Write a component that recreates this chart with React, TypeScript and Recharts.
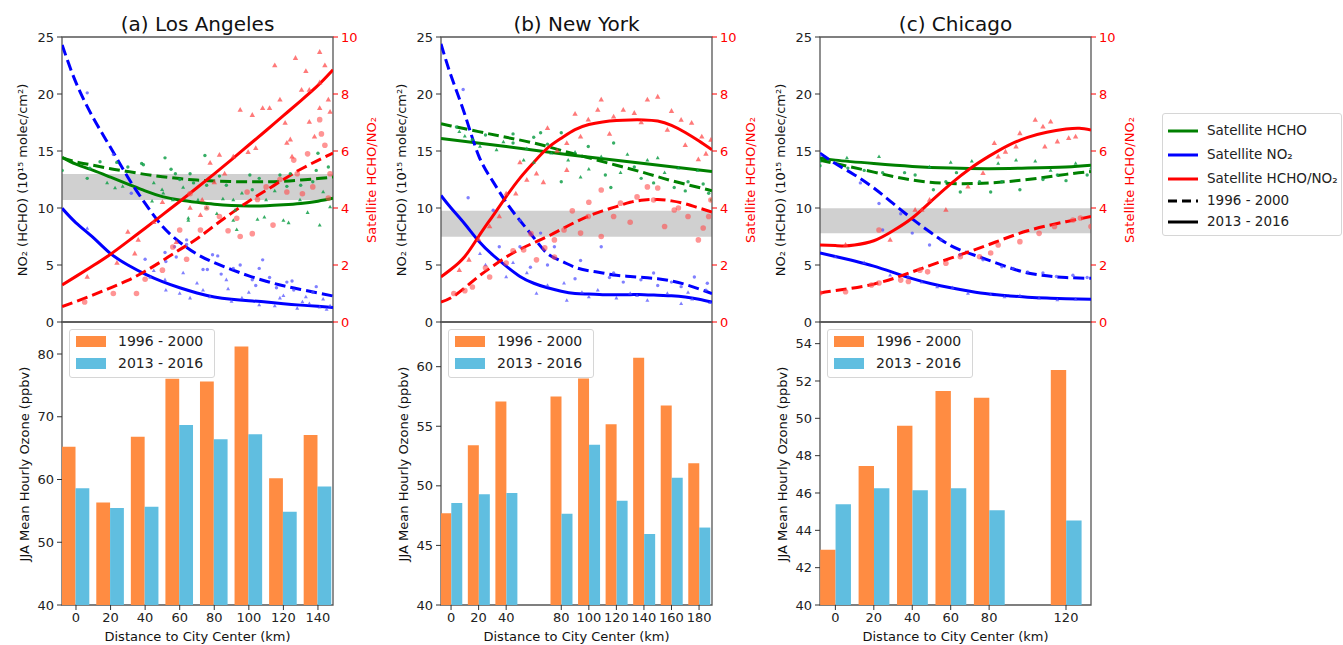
import React from 'react';
import { ComposedChart, BarChart, Bar, Line, Scatter, XAxis, YAxis, ReferenceArea, Legend } from 'recharts';

type Pt = [number, number];

// ---------------- Los Angeles ----------------
const laDist = [0, 20, 40, 60, 80, 100, 120, 140];
const laO3Old = [65.2, 56.35, 66.8, 76.05, 75.6, 81.2, 60.2, 67.1];
const laO3New = [58.6, 55.45, 55.65, 68.7, 66.4, 67.2, 54.85, 58.9];

const laHchoOldFit: Pt[] = [[-8, 14.4], [0, 14.05], [10, 13.75], [20, 13.45], [30, 13.2], [40, 12.95], [50, 12.75], [60, 12.58], [70, 12.45], [80, 12.37], [90, 12.32], [100, 12.3], [110, 12.3], [120, 12.35], [130, 12.45], [140, 12.58], [148.7, 12.72]];
const laHchoNewFit: Pt[] = [[-8, 14.45], [0, 13.85], [10, 13.3], [20, 12.7], [30, 12.1], [40, 11.5], [50, 11.0], [60, 10.7], [70, 10.5], [80, 10.33], [90, 10.22], [100, 10.18], [110, 10.2], [120, 10.28], [130, 10.4], [140, 10.6], [148.7, 10.85]];
const laNo2OldFit: Pt[] = [[-8, 24.3], [0, 21.0], [10, 17.9], [20, 15.3], [30, 12.7], [40, 10.4], [50, 8.4], [60, 7.0], [70, 5.95], [80, 5.2], [90, 4.6], [100, 4.05], [110, 3.58], [120, 3.18], [130, 2.85], [140, 2.55], [148.7, 2.28]];
const laNo2NewFit: Pt[] = [[-8, 9.97], [0, 8.7], [10, 7.4], [20, 6.0], [30, 5.0], [40, 4.2], [50, 3.54], [60, 3.0], [70, 2.55], [80, 2.2], [90, 2.0], [100, 1.87], [110, 1.75], [120, 1.6], [130, 1.48], [140, 1.38], [148.7, 1.28]];
const laRatioOldFit: Pt[] = [[-8, 0.54], [0, 0.72], [10, 0.95], [20, 1.2], [30, 1.46], [40, 1.78], [50, 2.15], [60, 2.54], [70, 2.92], [80, 3.38], [90, 3.82], [100, 4.24], [110, 4.62], [120, 5.0], [130, 5.36], [140, 5.67], [148.7, 5.93]];
const laRatioNewFit: Pt[] = [[-8, 1.3], [0, 1.6], [10, 1.98], [20, 2.38], [30, 2.83], [40, 3.29], [50, 3.76], [60, 4.23], [70, 4.71], [80, 5.2], [90, 5.7], [100, 6.21], [110, 6.72], [120, 7.24], [130, 7.76], [140, 8.3], [148.7, 8.85]];

const laHchoOld: Pt[] = [[-8, 13.3], [6.5, 12.6], [8, 13.5], [13.9, 14.06], [23.6, 14.0], [30, 13.6], [38, 13.9], [39, 13.8], [51.5, 14.4], [55, 13.4], [57.5, 13.0], [60, 12.5], [66, 13.0], [68, 12.2], [74.6, 14.6], [75.6, 12.0], [83, 12.8], [87, 12.0], [100.6, 12.9], [102, 11.6], [106, 12.6], [118, 12.9], [122, 11.9], [124, 13.0], [130, 12.0], [137, 12.3], [139, 13.3], [140, 14.8], [146, 13.6]];
const laHchoNew: Pt[] = [[18, 12.2], [22.6, 11.75], [27, 11.9], [44, 10.6], [45, 12.2], [49.8, 11.6], [50.5, 11.3], [56, 10.7], [62, 11.8], [65, 8.9], [65, 9.1], [70.6, 10.7], [75.6, 10.0], [81.5, 9.5], [85, 10.8], [91, 10.7], [91, 8.9], [92, 9.8], [93, 8.1], [96, 11.3], [105, 9.0], [109, 9.2], [110, 10.7], [115, 11.5], [120, 8.9], [123, 8.7], [129.6, 10.7], [134, 9.6], [141, 8.5], [143, 11.4], [147, 10.1]];
const laNo2Old: Pt[] = [[6.5, 20.1], [21.6, 14.7], [32, 11.3], [40, 5.5], [51.5, 6.1], [52, 5.3], [57, 6.6], [58, 5.7], [64, 7.2], [64, 6.8], [73.5, 4.6], [76, 4.6], [79, 5.9], [82, 5.8], [84, 4.2], [91, 4.7], [95, 5.0], [102, 3.7], [104, 3.2], [106, 4.7], [108, 5.45], [112, 3.9], [116, 3.0], [122, 3.5], [125, 3.6], [126, 2.8], [137, 2.6], [139, 3.1]];
const laNo2New: Pt[] = [[6.5, 8.2], [43, 3.9], [45, 4.5], [51.5, 3.7], [52, 2.8], [60, 2.5], [62, 4.3], [66, 2.1], [70, 3.4], [73.5, 2.8], [77.5, 2.2], [87, 3.7], [88, 2.9], [90, 1.8], [96, 2.1], [100, 2.6], [106, 1.5], [115, 1.4], [118, 2.1], [120, 2.3], [128, 1.2], [131, 1.75], [133, 2.2], [135, 1.6], [141, 1.3], [143, 2.0], [145, 1.1], [147, 1.4]];
const laRatioOld: Pt[] = [[5, 0.7], [21.6, 1.0], [35, 1.0], [40, 1.5], [50, 1.82], [56, 2.63], [60, 3.23], [64, 2.2], [66, 4.5], [72, 3.23], [75.6, 4.0], [83, 3.7], [88, 3.2], [93, 3.64], [95, 3.0], [99, 4.56], [102, 3.1], [105, 4.3], [110, 4.74], [114, 3.4], [118, 5.0], [122, 4.56], [126, 5.68], [128, 5.2], [131, 4.5], [134, 5.9], [137, 4.74], [141, 7.1], [142, 6.6], [144, 6.2], [146, 4.35], [147, 5.2]];
const laRatioNew: Pt[] = [[6.5, 1.58], [23.7, 2.07], [30, 3.16], [34, 2.4], [36, 2.88], [45, 3.5], [50, 4.2], [58, 2.8], [66, 4.0], [72, 3.75], [73, 4.28], [77.6, 5.58], [80, 4.9], [83, 5.86], [86, 5.2], [91, 5.8], [95, 7.44], [99.6, 5.96], [102, 7.26], [104, 6.1], [108, 7.5], [112, 7.5], [115, 9.0], [118, 7.8], [121, 6.98], [122, 6.28], [124, 6.4], [125, 5.8], [127, 9.26], [130.5, 8.14], [133, 8.8], [135, 8.14], [135, 7.02], [138, 6.5], [141, 9.47], [141, 7.5], [141, 8.4], [144, 9.0], [146, 7.8], [147, 7.37]];

// ---------------- New York ----------------
const nyDist = [0, 20, 40, 80, 100, 120, 140, 160, 180];
const nyO3Old = [47.7, 53.4, 57.07, 57.5, 59.0, 55.17, 60.75, 56.74, 51.9];
const nyO3New = [48.55, 49.3, 49.4, 47.65, 53.45, 48.74, 45.95, 50.67, 46.5];

const nyHchoOldFit: Pt[] = [[-7.3, 17.4], [0, 17.2], [20, 16.7], [40, 16.2], [60, 15.7], [80, 15.05], [100, 14.4], [120, 13.75], [140, 13.1], [160, 12.4], [180, 11.8], [189.4, 11.5]];
const nyHchoNewFit: Pt[] = [[-7.3, 16.1], [40, 15.4], [90, 14.6], [140, 13.9], [189.4, 13.2]];
const nyNo2OldFit: Pt[] = [[-7.3, 24.4], [0, 21.6], [10, 18.2], [20, 14.6], [30, 12.4], [40, 10.5], [50, 8.9], [60, 7.4], [70, 6.0], [80, 5.35], [90, 4.8], [100, 4.5], [110, 4.3], [120, 4.1], [130, 4.0], [140, 3.9], [150, 3.8], [160, 3.6], [170, 3.3], [180, 2.9], [189.4, 2.5]];
const nyNo2NewFit: Pt[] = [[-7.3, 11.1], [0, 10.0], [10, 8.6], [20, 7.1], [30, 5.9], [40, 4.9], [50, 4.0], [60, 3.4], [70, 3.0], [80, 2.7], [90, 2.5], [100, 2.45], [110, 2.4], [120, 2.4], [130, 2.4], [140, 2.4], [150, 2.35], [160, 2.3], [170, 2.2], [180, 2.0], [189.4, 1.75]];
const nyRatioOldFit: Pt[] = [[-7.3, 0.7], [0, 0.85], [10, 1.2], [20, 1.6], [30, 1.95], [40, 2.28], [50, 2.55], [60, 2.78], [70, 3.0], [80, 3.25], [90, 3.5], [100, 3.72], [110, 3.9], [120, 4.05], [130, 4.2], [140, 4.28], [150, 4.3], [160, 4.25], [170, 4.15], [180, 4.0], [189.4, 3.86]];
const nyRatioNewFit: Pt[] = [[-7.3, 1.58], [0, 1.85], [10, 2.3], [20, 3.0], [30, 3.7], [40, 4.4], [50, 5.05], [60, 5.6], [70, 6.1], [80, 6.45], [90, 6.75], [100, 6.93], [110, 7.02], [120, 7.07], [130, 7.09], [140, 7.09], [150, 7.05], [160, 6.9], [170, 6.65], [180, 6.35], [189.4, 6.04]];

const nyHchoOld: Pt[] = [[3.9, 17.1], [15.5, 16.0], [25, 16.4], [45, 15.7], [45, 16.5], [60, 16.2], [65, 16.6], [70, 15.6], [80, 16.6], [80, 12.3], [99.6, 15.4], [112, 12.9], [116, 11.8], [118, 15.7], [133, 13.6], [138, 12.6], [147, 12.2], [162, 11.8], [170, 11.5], [172, 12.3], [183, 12.1], [187, 11.3], [189, 10.7]];
const nyHchoNew: Pt[] = [[6, 16.7], [10, 16.3], [21, 15.4], [33, 15.1], [38, 15.8], [52.7, 14.2], [55, 15.2], [60, 14.0], [72.8, 14.8], [85, 14.2], [90, 14.9], [94, 12.7], [100, 13.4], [109, 14.5], [123, 13.1], [128, 14.7], [142.5, 14.2], [150, 14.4], [155, 13.1], [165, 13.5], [179, 13.3]];
const nyNo2Old: Pt[] = [[8.8, 20.4], [12.4, 10.9], [30.6, 9.8], [35, 6.6], [50, 8.9], [50, 6.6], [57.6, 4.8], [65, 7.8], [70, 5.0], [75, 6.6], [90, 3.8], [94, 5.4], [109, 6.6], [115, 3.9], [118, 4.3], [125, 3.5], [137.8, 3.7], [147, 4.3], [150, 3.2], [160, 3.5], [167, 3.1], [176.6, 3.95], [185, 2.8], [186, 3.4]];
const nyNo2New: Pt[] = [[21, 6.0], [25, 5.0], [40, 3.95], [45, 5.2], [55, 4.3], [62, 2.5], [70, 3.2], [82, 3.4], [84, 1.9], [95, 2.6], [100, 2.2], [106.5, 2.8], [120, 2.1], [130, 2.5], [135, 2.3], [142.5, 1.9], [157, 2.5], [167, 1.6], [172, 2.6], [175, 2.0], [188, 1.7]];
const nyRatioOld: Pt[] = [[2, 1.0], [10, 1.1], [15.5, 1.23], [25, 1.9], [28, 1.58], [40, 2.07], [45, 2.5], [52.7, 2.53], [58, 3.1], [62, 2.18], [68, 2.6], [75, 2.88], [75, 2.28], [82, 3.23], [88, 3.9], [94, 3.12], [99.6, 3.7], [100, 4.2], [109, 3.0], [109, 4.63], [118, 3.7], [123, 4.17], [130, 3.5], [135, 4.39], [142.5, 4.74], [147, 4.28], [150, 4.7], [155, 3.35], [162, 3.93], [165, 4.0], [172, 3.7], [179.5, 2.88], [183, 3.3], [187, 3.7], [188.6, 4.28]];
const nyRatioNew: Pt[] = [[6, 1.82], [13, 2.18], [20, 2.9], [28, 3.35], [35, 3.7], [40, 4.5], [47, 4.5], [50, 5.6], [55, 4.98], [62, 5.2], [67, 4.9], [70, 6.8], [77, 6.0], [84, 6.27], [84, 5.33], [90, 7.3], [94, 6.5], [99.6, 7.1], [106.5, 7.44], [109, 7.8], [115, 6.6], [118, 7.2], [125, 7.44], [133, 7.33], [138, 7.0], [142.5, 7.8], [150, 7.9], [157, 6.74], [160, 7.4], [167, 7.09], [170, 6.2], [174.6, 6.98], [179.5, 5.7], [182, 6.5], [185, 5.9], [188.6, 6.39]];

// ---------------- Chicago ----------------
const chDist = [0, 20, 40, 60, 80, 120];
const chO3Old = [42.96, 47.45, 49.6, 51.47, 51.1, 52.59];
const chO3New = [45.4, 46.26, 46.15, 46.26, 45.08, 44.53];

const chHchoOldFit: Pt[] = [[-8, 14.2], [0, 13.9], [20, 13.15], [40, 12.45], [60, 12.15], [80, 12.2], [100, 12.5], [120, 12.95], [133, 13.2]];
const chHchoNewFit: Pt[] = [[-8, 14.4], [0, 14.2], [20, 13.9], [40, 13.65], [60, 13.5], [80, 13.45], [100, 13.5], [120, 13.6], [133, 13.75]];
const chNo2OldFit: Pt[] = [[-8, 14.8], [0, 13.9], [10, 12.9], [20, 11.75], [30, 10.4], [40, 9.05], [50, 7.8], [60, 6.7], [70, 6.0], [80, 5.4], [90, 4.8], [100, 4.3], [110, 4.05], [120, 3.9], [133, 3.83]];
const chNo2NewFit: Pt[] = [[-8, 6.05], [0, 5.75], [10, 5.35], [20, 4.9], [30, 4.35], [40, 3.8], [50, 3.35], [60, 3.0], [70, 2.7], [80, 2.45], [90, 2.3], [100, 2.18], [110, 2.1], [120, 2.05], [133, 2.0]];
const chRatioOldFit: Pt[] = [[-8, 1.02], [0, 1.1], [20, 1.33], [40, 1.76], [60, 2.24], [80, 2.72], [100, 3.2], [120, 3.52], [133, 3.7]];
const chRatioNewFit: Pt[] = [[-8, 2.7], [0, 2.68], [5, 2.67], [10, 2.7], [20, 2.85], [30, 3.2], [40, 3.65], [50, 4.25], [60, 4.85], [70, 5.38], [80, 5.82], [90, 6.2], [100, 6.48], [110, 6.66], [120, 6.77], [127, 6.8], [133, 6.74]];

const chHchoOld: Pt[] = [[-8, 13.7], [6.5, 13.5], [15, 13.3], [24.6, 13.1], [36, 13.1], [41.5, 12.9], [51, 11.6], [57.5, 12.3], [63, 13.1], [65, 11.4], [75, 12.3], [80.8, 11.4], [86.6, 12.3], [96, 11.6], [108, 12.5], [115.5, 12.9], [120, 12.4], [131, 12.9]];
const chHchoNew: Pt[] = [[-8, 14.1], [6, 14.4], [22.7, 14.5], [49, 13.6], [60, 14.0], [71, 14.1], [84.7, 13.9], [94, 14.2], [104, 14.1], [112, 13.3], [125, 13.9], [133, 13.5]];
const chNo2Old: Pt[] = [[-8, 14.6], [13, 12.2], [22.7, 10.4], [24.6, 8.07], [34, 9.5], [40, 7.8], [49, 6.75], [55, 7.2], [65, 5.9], [76.8, 5.45], [86.6, 4.85], [92.4, 4.7], [100, 4.4], [108, 4.3], [115, 4.0], [123.6, 4.1], [131, 3.9]];
const chNo2New: Pt[] = [[0, 5.7], [15, 5.2], [28.5, 4.1], [38, 3.95], [45, 3.5], [53, 3.07], [61, 3.0], [69, 2.5], [80.8, 2.4], [88, 2.2], [96, 2.3], [106, 2.1], [115.5, 1.93], [125, 2.0]];
const chRatioOld: Pt[] = [[-8, 1.02], [5.3, 1.06], [18.8, 1.3], [22.7, 1.37], [22.7, 3.23], [34, 1.47], [38, 1.42], [44, 1.82], [48, 1.76], [57.5, 2.06], [65, 2.29], [75, 2.29], [80.8, 2.42], [84.7, 2.7], [96, 2.82], [106, 3.11], [114, 3.35], [123.6, 3.58], [127.5, 3.65], [133, 3.35]];
const chRatioNew: Pt[] = [[5.3, 2.7], [28.5, 2.88], [41.5, 3.93], [45, 3.93], [49, 4.28], [57.5, 3.93], [69, 4.75], [76.8, 5.22], [82.7, 6.27], [84.7, 5.8], [88.5, 5.97], [94, 6.15], [96, 6.62], [104, 7.09], [108, 6.85], [109, 6.15], [112, 7.03], [115.5, 6.33], [121.4, 6.45], [125, 6.5]];

// ---------------- shared ticks ----------------
const leftTicks = [0, 5, 10, 15, 20, 25];
const rightTicks = [0, 2, 4, 6, 8, 10];
const laO3Ticks = [40, 50, 60, 70, 80];
const nyO3Ticks = [40, 45, 50, 55, 60];
const chO3Ticks = [40, 42, 44, 46, 48, 50, 52, 54];

const FONT = '"DejaVu Sans", "Liberation Sans", sans-serif';
const PW = 271;
const TOP_Y = 37;
const MID_Y = 322;
const BOT_Y = 605;
const PAD = 12;
const GREEN = '#008000';
const BLUE = '#0000ff';
const RED = '#ff0000';
const ORANGE = '#ff8c42';
const SKY = '#60bee0';
const FRAME = '#555555';

interface City {
  title: string;
  left: number;
  domain: [number, number];
  band: [number, number];
  fits: { hchoOld: Pt[]; hchoNew: Pt[]; no2Old: Pt[]; no2New: Pt[]; ratioOld: Pt[]; ratioNew: Pt[] };
  pts: { hchoOld: Pt[]; hchoNew: Pt[]; no2Old: Pt[]; no2New: Pt[]; ratioOld: Pt[]; ratioNew: Pt[] };
  dist: number[];
  o3Old: number[];
  o3New: number[];
  o3Max: number;
  o3Ticks: number[];
  barSize: number;
}

const cities: City[] = [
  {
    title: '(a) Los Angeles', left: 62, domain: [-8.1, 148.7], band: [10.7, 12.98],
    fits: { hchoOld: laHchoOldFit, hchoNew: laHchoNewFit, no2Old: laNo2OldFit, no2New: laNo2NewFit, ratioOld: laRatioOldFit, ratioNew: laRatioNewFit },
    pts: { hchoOld: laHchoOld, hchoNew: laHchoNew, no2Old: laNo2Old, no2New: laNo2New, ratioOld: laRatioOld, ratioNew: laRatioNew },
    dist: laDist, o3Old: laO3Old, o3New: laO3New, o3Max: 85.1, o3Ticks: laO3Ticks, barSize: 13.8,
  },
  {
    title: '(b) New York', left: 441, domain: [-7.3, 189.4], band: [7.48, 9.76],
    fits: { hchoOld: nyHchoOldFit, hchoNew: nyHchoNewFit, no2Old: nyNo2OldFit, no2New: nyNo2NewFit, ratioOld: nyRatioOldFit, ratioNew: nyRatioNewFit },
    pts: { hchoOld: nyHchoOld, hchoNew: nyHchoNew, no2Old: nyNo2Old, no2New: nyNo2New, ratioOld: nyRatioOld, ratioNew: nyRatioNew },
    dist: nyDist, o3Old: nyO3Old, o3New: nyO3New, o3Max: 63.75, o3Ticks: nyO3Ticks, barSize: 11.0,
  },
  {
    title: '(c) Chicago', left: 820, domain: [-8, 133], band: [7.78, 9.97],
    fits: { hchoOld: chHchoOldFit, hchoNew: chHchoNewFit, no2Old: chNo2OldFit, no2New: chNo2NewFit, ratioOld: chRatioOldFit, ratioNew: chRatioNewFit },
    pts: { hchoOld: chHchoOld, hchoNew: chHchoNew, no2Old: chNo2Old, no2New: chNo2New, ratioOld: chRatioOld, ratioNew: chRatioNew },
    dist: chDist, o3Old: chO3Old, o3New: chO3New, o3Max: 55.16, o3Ticks: chO3Ticks, barSize: 15.4,
  },
];

const toPts = (a: Pt[]) => a.map(([d, v]) => ({ d, v }));

const dotShape = (color: string, r: number, op: number) => (props: any) => {
  if (props.cx == null || props.cy == null) return <g />;
  return <circle cx={props.cx} cy={props.cy} r={r} fill={color} fillOpacity={op} />;
};
const triShape = (color: string, s: number, op: number) => (props: any) => {
  if (props.cx == null || props.cy == null) return <g />;
  const { cx, cy } = props;
  return <path d={`M${cx},${cy - s} L${cx + s * 0.9},${cy + s * 0.6} L${cx - s * 0.9},${cy + s * 0.6} Z`} fill={color} fillOpacity={op} />;
};

const tickStyle = { fontSize: 13, fill: '#222', fontFamily: FONT };
const redTickStyle = { fontSize: 13, fill: RED, fontFamily: FONT };

function RightLegend() {
  const rows: { label: string; color: string; dash?: string }[] = [
    { label: 'Satellite HCHO', color: GREEN },
    { label: 'Satellite NO₂', color: BLUE },
    { label: 'Satellite HCHO/NO₂', color: RED },
    { label: '1996 - 2000', color: '#000', dash: '9 5' },
    { label: '2013 - 2016', color: '#000' },
  ];
  const ys = [17, 41, 65, 87, 108];
  return (
    <div style={{ position: 'relative', width: 180, height: 123, border: '1px solid #d6d6d6', borderRadius: 3, background: 'rgba(255,255,255,0.85)', fontFamily: FONT, fontSize: 13.5, color: '#222', boxSizing: 'border-box' }}>
      {rows.map((r, i) => (
        <div key={r.label} style={{ position: 'absolute', left: 0, top: ys[i] - 10, height: 20, width: 176 }}>
          <svg width={40} height={20} style={{ position: 'absolute', left: 4, top: 0 }}>
            <line x1={1} y1={10} x2={31} y2={10} stroke={r.color} strokeWidth={3} strokeDasharray={r.dash} />
          </svg>
          <span style={{ position: 'absolute', left: 44, top: 0, whiteSpace: 'nowrap', lineHeight: '18px' }}>{r.label}</span>
        </div>
      ))}
    </div>
  );
}

function O3Legend() {
  return (
    <div style={{ position: 'relative', width: 146, height: 49, border: '1px solid #d6d6d6', borderRadius: 3, background: 'rgba(255,255,255,0.85)', fontFamily: FONT, fontSize: 14, color: '#222', boxSizing: 'border-box' }}>
      <div style={{ position: 'absolute', left: 6, top: 6, width: 30, height: 11, background: ORANGE }} />
      <span style={{ position: 'absolute', left: 48, top: 2, lineHeight: '18px', whiteSpace: 'nowrap' }}>1996 - 2000</span>
      <div style={{ position: 'absolute', left: 6, top: 28, width: 30, height: 11, background: SKY }} />
      <span style={{ position: 'absolute', left: 48, top: 24, lineHeight: '18px', whiteSpace: 'nowrap' }}>2013 - 2016</span>
    </div>
  );
}

function TopChart({ c, withLegend }: { c: City; withLegend: boolean }) {
  const LW = 50;
  const RW = 45;
  const chartLeft = c.left - LW;
  const chartTop = TOP_Y - PAD;
  return (
    <div style={{ position: 'absolute', left: chartLeft, top: chartTop }}>
      <ComposedChart width={LW + PW + RW} height={PAD + (MID_Y - TOP_Y) + PAD} margin={{ top: PAD, right: 0, bottom: PAD, left: 0 }}>
        <XAxis type="number" dataKey="d" domain={c.domain} hide allowDataOverflow />
        <YAxis yAxisId="l" type="number" domain={[0, 25]} ticks={leftTicks} interval={0} width={LW} axisLine={false} tickSize={5} tickMargin={3} tick={tickStyle} tickLine={{ stroke: '#333' }} allowDataOverflow />
        <YAxis yAxisId="r" orientation="right" type="number" domain={[0, 10]} ticks={rightTicks} interval={0} width={RW} axisLine={false} tickSize={5} tickMargin={3} tick={redTickStyle} tickLine={{ stroke: RED }} allowDataOverflow />
        <ReferenceArea yAxisId="l" x1={c.domain[0]} x2={c.domain[1]} y1={c.band[0]} y2={c.band[1]} fill="#d0d0d0" fillOpacity={1} stroke="none" ifOverflow="visible" />
        <Scatter yAxisId="l" name="hcho old pts" data={toPts(c.pts.hchoOld)} dataKey="v" shape={dotShape('#13a04a', 1.7, 0.85)} isAnimationActive={false} />
        <Scatter yAxisId="l" name="hcho new pts" data={toPts(c.pts.hchoNew)} dataKey="v" shape={triShape('#13a04a', 2.2, 0.85)} isAnimationActive={false} />
        <Scatter yAxisId="l" name="no2 old pts" data={toPts(c.pts.no2Old)} dataKey="v" shape={dotShape('#4a4aff', 1.7, 0.7)} isAnimationActive={false} />
        <Scatter yAxisId="l" name="no2 new pts" data={toPts(c.pts.no2New)} dataKey="v" shape={triShape('#4a4aff', 2.2, 0.7)} isAnimationActive={false} />
        <Line yAxisId="l" data={toPts(c.fits.hchoOld)} dataKey="v" type="natural" stroke={GREEN} strokeWidth={3} strokeDasharray="11 5" dot={false} isAnimationActive={false} />
        <Line yAxisId="l" data={toPts(c.fits.hchoNew)} dataKey="v" type="natural" stroke={GREEN} strokeWidth={3} dot={false} isAnimationActive={false} />
        <Line yAxisId="l" data={toPts(c.fits.no2Old)} dataKey="v" type="natural" stroke={BLUE} strokeWidth={3} strokeDasharray="11 5" dot={false} isAnimationActive={false} />
        <Line yAxisId="l" data={toPts(c.fits.no2New)} dataKey="v" type="natural" stroke={BLUE} strokeWidth={3} dot={false} isAnimationActive={false} />
        <Scatter yAxisId="r" name="ratio old pts" data={toPts(c.pts.ratioOld)} dataKey="v" shape={dotShape('#ff4d4d', 2.8, 0.6)} isAnimationActive={false} />
        <Scatter yAxisId="r" name="ratio new pts" data={toPts(c.pts.ratioNew)} dataKey="v" shape={triShape('#ff4040', 3.0, 0.7)} isAnimationActive={false} />
        <Line yAxisId="r" data={toPts(c.fits.ratioOld)} dataKey="v" type="natural" stroke={RED} strokeWidth={3} strokeDasharray="11 5" dot={false} isAnimationActive={false} />
        <Line yAxisId="r" data={toPts(c.fits.ratioNew)} dataKey="v" type="natural" stroke={RED} strokeWidth={3} dot={false} isAnimationActive={false} />
        <ReferenceArea yAxisId="l" x1={c.domain[0]} x2={c.domain[1]} y1={0} y2={25} fill="none" fillOpacity={0} stroke={FRAME} strokeWidth={1.3} ifOverflow="visible" />
        {withLegend && (
          <Legend layout="vertical" align="center" verticalAlign="middle" wrapperStyle={{ left: 1162 - chartLeft, top: 113 - chartTop, width: 180, height: 123 }} content={() => <RightLegend />} />
        )}
      </ComposedChart>
    </div>
  );
}

function BottomChart({ c }: { c: City }) {
  const LW = 50;
  const chartLeft = c.left - LW;
  const chartTop = MID_Y - 5;
  const rows = c.dist.map((d, i) => ({ d, old: c.o3Old[i], recent: c.o3New[i] }));
  return (
    <div style={{ position: 'absolute', left: chartLeft, top: chartTop }}>
      <BarChart width={LW + PW + 6} height={5 + (BOT_Y - MID_Y) + 26} data={rows} margin={{ top: 5, right: 6, bottom: 0, left: 0 }} barGap={0}>
        <XAxis type="number" dataKey="d" domain={c.domain} ticks={c.dist} interval={0} allowDataOverflow height={26} axisLine={false} tickSize={5} tickMargin={3} tick={tickStyle} tickLine={{ stroke: '#333' }} />
        <YAxis type="number" domain={[40, c.o3Max]} ticks={c.o3Ticks} interval={0} width={LW} axisLine={false} tickSize={5} tickMargin={3} tick={tickStyle} tickLine={{ stroke: '#333' }} allowDataOverflow />
        <Bar dataKey="old" name="1996 - 2000" fill={ORANGE} barSize={c.barSize} isAnimationActive={false} />
        <Bar dataKey="recent" name="2013 - 2016" fill={SKY} barSize={c.barSize} isAnimationActive={false} />
        <ReferenceArea x1={c.domain[0]} x2={c.domain[1]} y1={40} y2={c.o3Max} fill="none" fillOpacity={0} stroke={FRAME} strokeWidth={1.3} ifOverflow="visible" />
        <Legend layout="vertical" align="center" verticalAlign="middle" wrapperStyle={{ left: LW + 7, top: 329 - chartTop, width: 146, height: 49 }} content={() => <O3Legend />} />
      </BarChart>
    </div>
  );
}

const abs = (style: React.CSSProperties): React.CSSProperties => ({ position: 'absolute', whiteSpace: 'nowrap', fontFamily: FONT, ...style });

export default function App() {
  return (
    <div style={{ position: 'absolute', left: 0, top: 0, width: 1343, height: 645, overflow: 'hidden', background: '#fff', fontFamily: FONT }}>
      {cities.map((c, i) => {
        const cx = c.left + PW / 2;
        return (
          <React.Fragment key={c.title}>
            <BottomChart c={c} />
            <TopChart c={c} withLegend={i === 2} />
            <div style={abs({ left: cx, top: 24, transform: 'translate(-50%,-50%)', fontSize: 20, color: '#111' })}>{c.title}</div>
            <div style={abs({ left: c.left - 40, top: (TOP_Y + MID_Y) / 2, transform: 'translate(-50%,-50%) rotate(-90deg)', fontSize: 13, color: '#111' })}>NO₂ (HCHO) (10¹⁵ molec/cm²)</div>
            <div style={abs({ left: c.left + PW + 38, top: (TOP_Y + MID_Y) / 2, transform: 'translate(-50%,-50%) rotate(-90deg)', fontSize: 13, color: RED })}>Satellite HCHO/NO₂</div>
            <div style={abs({ left: c.left - 38, top: (MID_Y + BOT_Y) / 2, transform: 'translate(-50%,-50%) rotate(-90deg)', fontSize: 13, color: '#111' })}>JJA Mean Hourly Ozone (ppbv)</div>
            <div style={abs({ left: cx, top: 636, transform: 'translate(-50%,-50%)', fontSize: 13, color: '#111' })}>Distance to City Center (km)</div>
          </React.Fragment>
        );
      })}
    </div>
  );
}
